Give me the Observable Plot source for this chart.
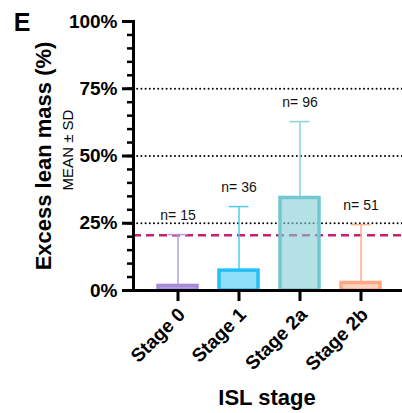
<!DOCTYPE html>
<html>
<head>
<meta charset="utf-8">
<script src="https://cdn.jsdelivr.net/npm/d3@7"></script>
<script src="https://cdn.jsdelivr.net/npm/@observablehq/plot@0.6"></script>
<style>
  html, body { margin: 0; padding: 0; background: white; }
  #chart { width: 402px; height: 413px; }
</style>
</head>
<body>
<div id="chart"></div>
<script>
const stages = ["Stage 0", "Stage 1", "Stage 2a", "Stage 2b"];
const means = [1.7, 7.4, 34.4, 2.8];
const sds = [19.1, 23.8, 28.4, 21.7];
const ns = [15, 36, 96, 51];
const barFills = ["#8e6bd9", "#44caf7", "#82cdd5", "#ffb494"];
const barStrokes = ["#a58bd8", "#22c0f5", "#72c8d0", "#ffa884"];
const errColors = ["#b39de0", "#4fcaf5", "#8ad3d9", "#ffae8c"];
const majorTicks = [0, 25, 50, 75, 100];
const minorTicks = [0, 5, 10, 15, 20, 25, 30, 35, 40, 45, 50, 55, 60, 65, 70, 75, 80, 85, 90, 95, 100];
const gridLines = [25, 50, 75];
const refLine = [20.5];

const data = stages.map((s, i) => ({
  stage: s, mean: means[i], sd: sds[i], n: ns[i],
  fill: barFills[i], stroke: barStrokes[i], err: errColors[i]
}));

const font = "Liberation Sans, Arial, Helvetica, sans-serif";

const plot = Plot.plot({
  width: 402,
  height: 413,
  marginTop: 21,
  marginBottom: 123,
  marginLeft: 133,
  marginRight: 0,
  style: { fontFamily: font, background: "white", color: "black", overflow: "visible" },
  x: { domain: stages, padding: 0.36, range: [134, 404] },
  y: { domain: [0, 100] },
  marks: [
    Plot.ruleY(gridLines, { stroke: "black", strokeWidth: 2, strokeDasharray: "0,4.2", strokeLinecap: "round" }),
    Plot.ruleY(refLine, { stroke: "#c81f6e", strokeWidth: 2.5, strokeDasharray: "8,5" }),
    Plot.ruleX(data, { x: "stage", y1: "mean", y2: d => d.mean + d.sd, stroke: d => d.err, strokeWidth: 1.5 }),
    Plot.tickY(data, { x: "stage", y: d => d.mean + d.sd, stroke: d => d.err, strokeWidth: 1.5, insetLeft: 9.5, insetRight: 9.5 }),
    Plot.barY(data, { x: "stage", y: "mean", fill: d => d.fill, fillOpacity: 0.6, stroke: d => d.stroke, strokeWidth: 3.5 }),
    Plot.text(data, { x: "stage", y: d => d.mean + d.sd, text: d => "n= " + d.n, dy: -19, fontSize: 14, fill: "#111" }),
    Plot.axisY({ ticks: minorTicks, tickSize: 6, text: null, stroke: "black", strokeOpacity: 1, strokeWidth: 2.5, label: null }),
    Plot.axisY({ ticks: majorTicks, tickFormat: d => d + "%", tickSize: 11, tickPadding: 5, fontSize: 19, fontWeight: "bold", fill: "black", stroke: "black", strokeOpacity: 1, strokeWidth: 3, label: null }),
    Plot.axisX({ tickSize: 11, text: null, stroke: "black", strokeOpacity: 1, strokeWidth: 3, label: null }),
    Plot.axisX({ tickSize: 0, tickRotate: -45, tickPadding: 12, dx: 4, dy: 9, fontSize: 19, fontWeight: "bold", fill: "black", label: null }),
    Plot.frame({ anchor: "left", stroke: "black", strokeWidth: 3 }),
    Plot.frame({ anchor: "bottom", stroke: "black", strokeWidth: 3 })
  ]
});

document.getElementById("chart").appendChild(plot);

const svg = d3.select(plot);
svg.append("text").attr("x", 22).attr("y", 31)
  .attr("font-family", font).attr("font-size", 25).attr("font-weight", "bold").attr("fill", "black").text("E");
svg.append("text").attr("transform", "translate(51,156) rotate(-90)")
  .attr("text-anchor", "middle").attr("font-family", font).attr("font-size", 22).attr("font-weight", "bold").attr("fill", "black")
  .text("Excess lean mass (%)");
svg.append("text").attr("transform", "translate(73,150) rotate(-90)")
  .attr("text-anchor", "middle").attr("font-family", font).attr("font-size", 15).attr("fill", "black")
  .text("MEAN ± SD");
svg.append("text").attr("x", 267).attr("y", 405)
  .attr("text-anchor", "middle").attr("font-family", font).attr("font-size", 22).attr("font-weight", "bold").attr("fill", "black")
  .text("ISL stage");
</script>
</body>
</html>
